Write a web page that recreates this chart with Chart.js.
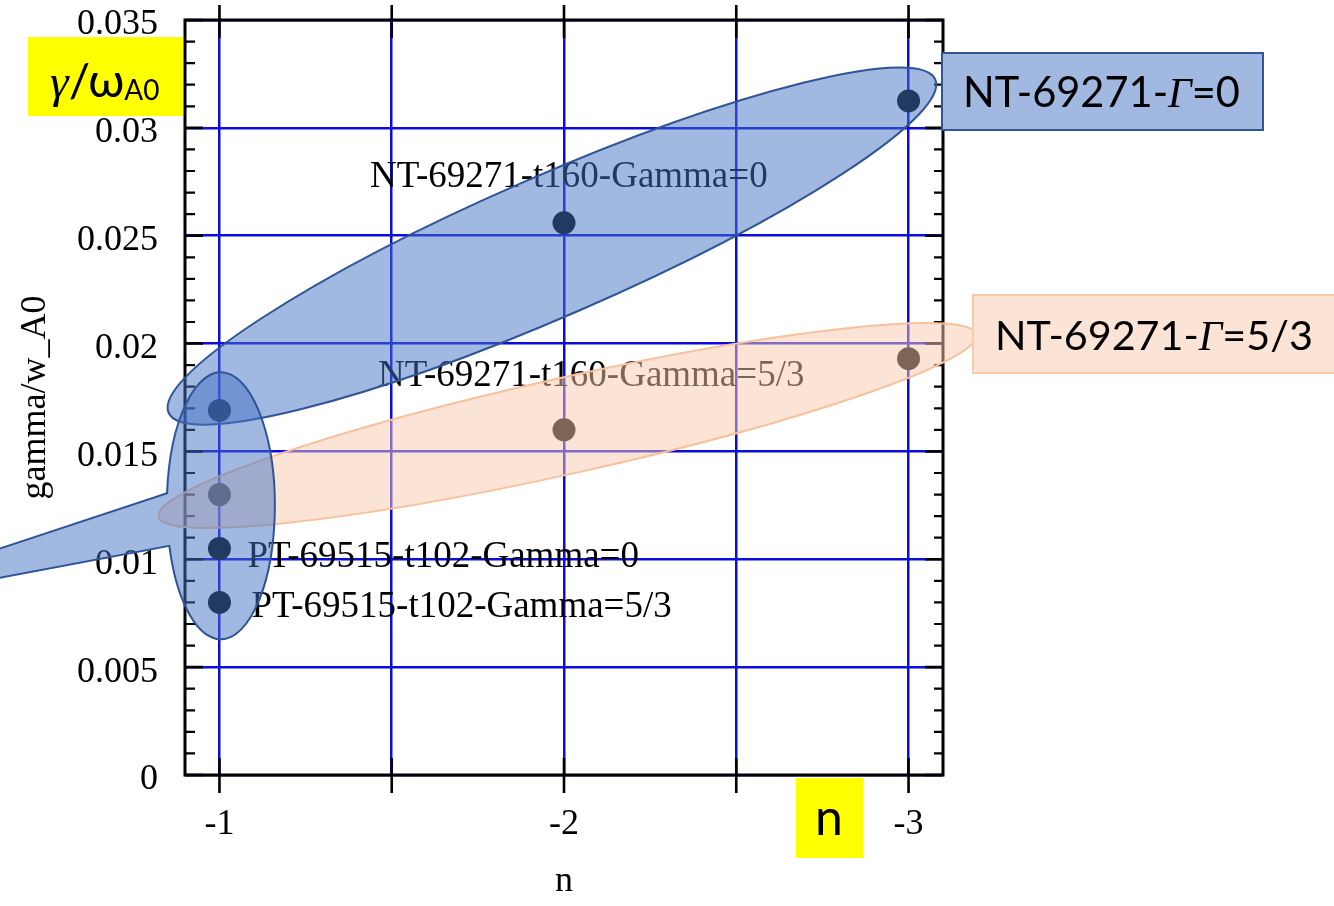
<!DOCTYPE html>
<html>
<head>
<meta charset="utf-8">
<script src="https://cdn.jsdelivr.net/npm/chart.js@4.4.1/dist/chart.umd.min.js"></script>
<style>
  html, body { margin: 0; padding: 0; background: #ffffff; }
  #wrap { width: 1334px; height: 906px; position: relative; }
</style>
</head>
<body>
<div id="wrap"><canvas id="c" width="1334" height="906"></canvas></div>
<script>
// Mode number n and normalised growth rate gamma / omega_A0
const nNT = [-1, -2, -3];
const ntGamma0 = [0.0169, 0.0256, 0.03125];   // NT-69271, t160, Gamma = 0
const ntGamma53 = [0.0130, 0.0160, 0.0193];   // NT-69271, t160, Gamma = 5/3
const nPT = [-1];
const ptGamma0 = [0.0105];                    // PT-69515, t102, Gamma = 0
const ptGamma53 = [0.0080];                   // PT-69515, t102, Gamma = 5/3

const xTickValues = [-1, -1.5, -2, -2.5, -3];
const yTickValues = [0, 0.005, 0.01, 0.015, 0.02, 0.025, 0.03, 0.035];

const SERIF = '"Liberation Serif", "Times New Roman", serif';
const SANS = 'Lato, "Open Sans", sans-serif';
const GRID_BLUE = 'rgb(12, 12, 222)';

const toPoints = (xs, ys) => xs.map((x, i) => ({ x, y: ys[i] }));

// Frame, inward/outward tick marks and minor ticks drawn over the grid
const framePlugin = {
  id: 'frame',
  beforeDatasetsDraw(chart) {
    const { ctx, chartArea: a, scales: { x, y } } = chart;
    ctx.save();
    ctx.strokeStyle = '#000';
    ctx.lineCap = 'butt';
    ctx.lineWidth = 2.6;
    ctx.beginPath();
    for (const v of xTickValues) {
      const px = x.getPixelForValue(v);
      ctx.moveTo(px, a.bottom + 18); ctx.lineTo(px, a.bottom - 17);
      ctx.moveTo(px, a.top - 15); ctx.lineTo(px, a.top + 18);
    }
    for (const v of yTickValues) {
      const py = y.getPixelForValue(v);
      ctx.moveTo(a.left, py); ctx.lineTo(a.left + 18, py);
      ctx.moveTo(a.right, py); ctx.lineTo(a.right - 18, py);
    }
    ctx.stroke();
    ctx.lineWidth = 2.2;
    ctx.beginPath();
    for (let k = 1; k < 35; k++) {
      if (k % 5 === 0) continue;
      const py = y.getPixelForValue(k / 1000);
      ctx.moveTo(a.left, py); ctx.lineTo(a.left + 10, py);
      ctx.moveTo(a.right, py); ctx.lineTo(a.right - 9, py);
    }
    ctx.stroke();
    ctx.lineWidth = 3;
    ctx.strokeRect(a.left, a.top, a.right - a.left, a.bottom - a.top);
    ctx.restore();
  }
};

function runsWidth(ctx, runs) {
  let w = 0;
  for (const r of runs) { ctx.font = r.font; w += ctx.measureText(r.text).width; }
  return w;
}
function drawRuns(ctx, runs, x, y) {
  let cx = x;
  for (const r of runs) {
    ctx.font = r.font;
    ctx.fillText(r.text, cx, y + (r.dy || 0));
    cx += ctx.measureText(r.text).width;
  }
}
// Builds runs at a size that makes the line span the given width
function fittedRuns(ctx, make, width) {
  const trial = make(40);
  const s = 40 * width / runsWidth(ctx, trial);
  return make(s);
}

// Series labels, grouping ellipses and the side captions
const notesPlugin = {
  id: 'notes',
  afterDatasetsDraw(chart) {
    const { ctx, scales: { x, y } } = chart;
    const P = (nx, vy) => [x.getPixelForValue(nx), y.getPixelForValue(vy)];
    ctx.save();

    // point labels
    ctx.fillStyle = '#000';
    ctx.font = '37px ' + SERIF;
    ctx.textBaseline = 'alphabetic';
    ctx.textAlign = 'left';
    let [px, py] = P(nNT[1], ntGamma0[1]);
    ctx.fillText('NT-69271-t160-Gamma=0', px - 194, py - 36);
    [px, py] = P(nNT[1], ntGamma53[1]);
    ctx.fillText('NT-69271-t160-Gamma=5/3', px - 186, py - 44);
    [px, py] = P(nPT[0], ptGamma0[0]);
    ctx.fillText('PT-69515-t102-Gamma=0', px + 28, py + 18);
    [px, py] = P(nPT[0], ptGamma53[0]);
    ctx.fillText('PT-69515-t102-Gamma=5/3', px + 32, py + 15);

    const blueFill = 'rgba(68, 114, 196, 0.5)';
    const blueLine = '#2f5597';
    const peachFill = 'rgba(247, 201, 172, 0.5)';
    const peachLine = '#f6c19c';

    // NT Gamma = 0 group
    let [cx, cy] = P(-1.965, 0.02452);
    ctx.beginPath();
    ctx.ellipse(cx, cy, 418, 70, -23.5 * Math.PI / 180, 0, Math.PI * 2);
    ctx.fillStyle = blueFill; ctx.fill();
    ctx.lineWidth = 2; ctx.strokeStyle = blueLine; ctx.stroke();

    // NT Gamma = 5/3 group
    [cx, cy] = P(-2.01, 0.0162);
    ctx.beginPath();
    ctx.ellipse(cx, cy, 419, 48, -12.56 * Math.PI / 180, 0, Math.PI * 2);
    ctx.fillStyle = peachFill; ctx.fill();
    ctx.lineWidth = 2; ctx.strokeStyle = peachLine; ctx.stroke();

    // n = -1 group, oval callout with its pointer running off to the left
    [cx, cy] = P(-1.004, 0.01248);
    const rx = 54, ry = 133.5;
    ctx.beginPath();
    ctx.ellipse(cx, cy, rx, ry, 0, 3.236, 2.837, false);
    ctx.lineTo(cx - 427, cy + 111);
    ctx.closePath();
    ctx.fillStyle = blueFill; ctx.fill();
    ctx.lineWidth = 2; ctx.strokeStyle = blueLine; ctx.stroke();

    // caption boxes on the right
    ctx.lineWidth = 2;
    ctx.fillStyle = '#a1b8e1'; ctx.strokeStyle = blueLine;
    ctx.fillRect(942, 53, 321, 77); ctx.strokeRect(942, 53, 321, 77);
    ctx.fillStyle = '#fbe3d6'; ctx.strokeStyle = '#f8cbad';
    ctx.fillRect(973, 295, 370, 78); ctx.strokeRect(973, 295, 370, 78);

    ctx.fillStyle = '#000';
    const capRuns = tail => s => [
      { text: 'NT-69271-', font: `${s}px ${SANS}` },
      { text: 'Γ', font: `italic ${s}px ${SERIF}` },
      { text: tail, font: `${s}px ${SANS}` }
    ];
    drawRuns(ctx, fittedRuns(ctx, capRuns('=0'), 277), 963, 107);
    drawRuns(ctx, fittedRuns(ctx, capRuns('=5/3'), 318), 995, 350);

    // highlighted axis names
    ctx.fillStyle = '#ffff00';
    ctx.fillRect(28, 37, 155, 79);
    ctx.fillRect(796, 778, 67, 80);
    ctx.fillStyle = '#000';
    const yName = s => [
      { text: 'γ', font: `italic ${s}px ${SERIF}` },
      { text: '/ω', font: `${s}px ${SANS}` },
      { text: 'A0', font: `${Math.round(s * 0.6)}px ${SANS}`, dy: 3 }
    ];
    drawRuns(ctx, fittedRuns(ctx, yName, 110), 50, 97);
    ctx.font = `50px ${SANS}`;
    ctx.textAlign = 'center';
    ctx.fillText('n', 829, 835);
    ctx.restore();
  }
};

Chart.defaults.color = '#000';

const pointStyle = { pointRadius: 11.5, pointHoverRadius: 11.5, backgroundColor: '#000', borderWidth: 0, showLine: false };

new Chart(document.getElementById('c'), {
  type: 'scatter',
  data: {
    datasets: [
      { label: 'NT-69271-t160-Gamma=0', data: toPoints(nNT, ntGamma0), ...pointStyle },
      { label: 'NT-69271-t160-Gamma=5/3', data: toPoints(nNT, ntGamma53), ...pointStyle },
      { label: 'PT-69515-t102-Gamma=0', data: toPoints(nPT, ptGamma0), ...pointStyle },
      { label: 'PT-69515-t102-Gamma=5/3', data: toPoints(nPT, ptGamma53), ...pointStyle }
    ]
  },
  options: {
    responsive: false,
    animation: false,
    devicePixelRatio: 1,
    layout: { padding: { left: 0, top: 20, right: 391, bottom: 0 } },
    plugins: { legend: { display: false }, tooltip: { enabled: false } },
    scales: {
      x: {
        type: 'linear',
        reverse: true,
        min: -3.1,
        max: -0.9,
        afterBuildTicks: s => { s.ticks = xTickValues.map(v => ({ value: v })); },
        afterFit: s => { s.height = 131; s.paddingLeft = 0; s.paddingRight = 0; },
        grid: { color: GRID_BLUE, lineWidth: 2.5, drawTicks: false },
        border: { display: false },
        ticks: {
          padding: 28,
          maxRotation: 0,
          autoSkip: false,
          font: { family: SERIF, size: 36 },
          callback: v => Number.isInteger(v) ? String(v) : ''
        },
        title: { display: true, text: 'n', font: { family: SERIF, size: 36 }, padding: { top: 0, bottom: 3 } }
      },
      y: {
        type: 'linear',
        min: 0,
        max: 0.035,
        afterBuildTicks: s => { s.ticks = yTickValues.map(v => ({ value: v })); },
        afterFit: s => { s.width = 185; s.paddingTop = 0; s.paddingBottom = 0; },
        grid: { color: GRID_BLUE, lineWidth: 2.5, drawTicks: false },
        border: { display: false },
        ticks: {
          padding: 27,
          labelOffset: 5,
          autoSkip: false,
          font: { family: SERIF, size: 36 },
          callback: v => v === 0 ? '0' : String(Number(v.toFixed(3)))
        },
        title: { display: true, text: 'gamma/w_A0', font: { family: SERIF, size: 36 }, padding: { top: 14, bottom: 0 } }
      }
    }
  },
  plugins: [framePlugin, notesPlugin]
});
</script>
</body>
</html>
